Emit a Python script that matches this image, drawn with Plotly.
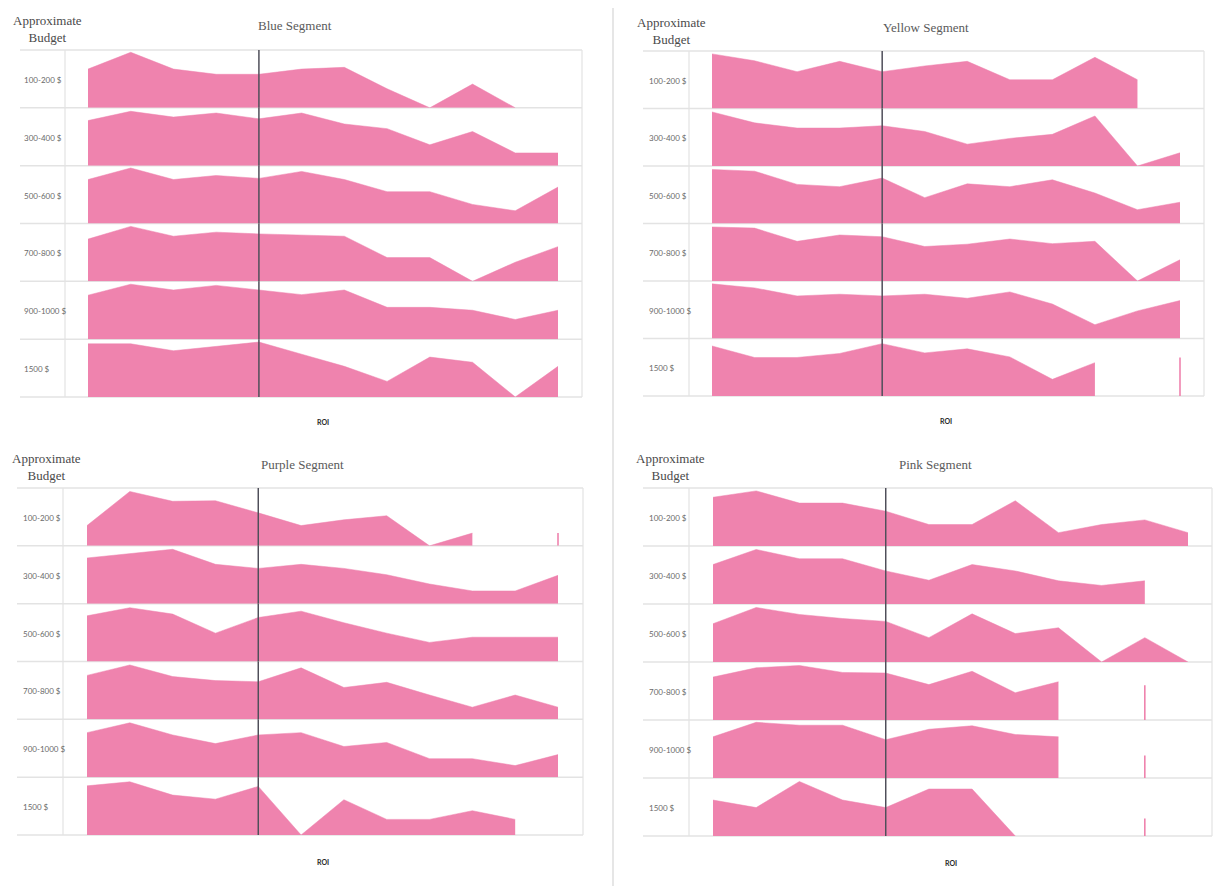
import plotly.graph_objects as go

# ---------------- data ----------------
budget_labels = ["100-200 $", "300-400 $", "500-600 $", "700-800 $", "900-1000 $", "1500 $"]
roi_points = list(range(12))
marker_roi = 4

segment_names = ["Blue Segment", "Yellow Segment", "Purple Segment", "Pink Segment"]

blue = [
    [0.67, 0.96, 0.67, 0.58, 0.58, 0.67, 0.70, 0.33, 0.0, 0.41, 0.0, None],
    [0.78, 0.94, 0.84, 0.91, 0.81, 0.91, 0.72, 0.64, 0.36, 0.59, 0.22, 0.22],
    [0.76, 0.96, 0.76, 0.83, 0.78, 0.90, 0.76, 0.55, 0.55, 0.33, 0.22, 0.63],
    [0.73, 0.95, 0.78, 0.85, 0.82, 0.80, 0.78, 0.41, 0.41, 0.0, 0.33, 0.60],
    [0.76, 0.95, 0.85, 0.93, 0.85, 0.77, 0.85, 0.55, 0.55, 0.50, 0.34, 0.50],
    [0.92, 0.92, 0.80, 0.87, 0.95, 0.74, 0.53, 0.27, 0.69, 0.60, 0.0, 0.53],
]
yellow = [
    [0.95, 0.83, 0.64, 0.82, 0.64, 0.74, 0.82, 0.50, 0.50, 0.89, 0.50, None],
    [0.94, 0.75, 0.66, 0.66, 0.70, 0.60, 0.38, 0.48, 0.55, 0.87, 0.0, 0.23],
    [0.94, 0.91, 0.68, 0.64, 0.79, 0.45, 0.69, 0.64, 0.76, 0.53, 0.24, 0.37],
    [0.94, 0.92, 0.69, 0.80, 0.77, 0.60, 0.64, 0.73, 0.65, 0.69, 0.0, 0.37],
    [0.95, 0.88, 0.74, 0.77, 0.74, 0.77, 0.70, 0.81, 0.60, 0.24, 0.48, 0.66],
    [0.87, 0.67, 0.67, 0.74, 0.91, 0.75, 0.82, 0.68, 0.29, 0.58, None, 0.67],
]
purple = [
    [0.35, 0.94, 0.77, 0.78, 0.57, 0.35, 0.45, 0.52, 0.0, 0.22, None, 0.22],
    [0.79, 0.86, 0.94, 0.68, 0.61, 0.68, 0.61, 0.50, 0.34, 0.22, 0.22, 0.49],
    [0.79, 0.93, 0.82, 0.49, 0.76, 0.87, 0.67, 0.49, 0.33, 0.42, 0.42, 0.42],
    [0.76, 0.94, 0.74, 0.67, 0.65, 0.89, 0.55, 0.64, 0.42, 0.21, 0.42, 0.21],
    [0.77, 0.94, 0.73, 0.58, 0.73, 0.77, 0.53, 0.60, 0.32, 0.32, 0.20, 0.39],
    [0.85, 0.92, 0.69, 0.62, 0.84, 0.0, 0.61, 0.27, 0.27, 0.42, 0.27, None],
]
pink = [
    [0.84, 0.95, 0.74, 0.74, 0.60, 0.37, 0.37, 0.78, 0.23, 0.37, 0.45, 0.23],
    [0.68, 0.94, 0.78, 0.78, 0.57, 0.41, 0.68, 0.57, 0.40, 0.32, 0.40, None],
    [0.66, 0.94, 0.82, 0.75, 0.70, 0.42, 0.83, 0.49, 0.59, 0.0, 0.42, 0.0],
    [0.74, 0.90, 0.94, 0.82, 0.81, 0.61, 0.84, 0.47, 0.66, None, 0.60, None],
    [0.71, 0.96, 0.91, 0.91, 0.66, 0.84, 0.90, 0.75, 0.71, None, 0.39, None],
    [0.62, 0.49, 0.94, 0.62, 0.49, 0.81, 0.81, 0.0, None, None, 0.30, None],
]
segments = [blue, yellow, purple, pink]

# ---------------- layout geometry (page pixels) ----------------
PAGE_OFF = 8            # default body margin of the html page
W, H = 1216, 878        # figure size so that it fits the 1224x886 window
FILL = "#EF83AE"
GRID = "#E3E3E3"
XPAD = 0.08             # small x padding (in ROI steps) so edge strokes are not clipped

panels = [
    dict(x0=88, x1=558, top=50, bottom=397, left=20, sep=65, right=582,
         lab_x=22, ab_x=47, ab_y=19, title_x=295, title_y=25, roi_x=323, roi_y=422),
    dict(x0=712, x1=1180, top=51, bottom=396, left=643, sep=689, right=1204,
         lab_x=647, ab_x=671, ab_y=21, title_x=926, title_y=28, roi_x=946, roi_y=421),
    dict(x0=87, x1=558, top=488, bottom=835, left=17, sep=63, right=583,
         lab_x=21, ab_x=46, ab_y=457, title_x=302, title_y=464, roi_x=323, roi_y=862),
    dict(x0=713, x1=1188, top=488, bottom=836, left=643, sep=689, right=1212,
         lab_x=647, ab_x=670, ab_y=457, title_x=935, title_y=464, roi_x=951, roi_y=863),
]


def px(x):
    return (x - PAGE_OFF) / W


def py(y):
    return 1 - (y - PAGE_OFF) / H


def runs(vals):
    """Split a series into contiguous runs of non-missing values."""
    out, cur = [], []
    for i, v in enumerate(vals):
        if v is None:
            if cur:
                out.append(cur)
            cur = []
        else:
            cur.append(i)
    if cur:
        out.append(cur)
    return out


fig = go.Figure()
layout_axes = {}
shapes = []
annotations = []

xmin, xmax = roi_points[0], roi_points[-1]
n = 0
for p_i, (seg, p) in enumerate(zip(segments, panels)):
    nrows = len(budget_labels)
    rh = (p["bottom"] - p["top"]) / nrows
    step = (p["x1"] - p["x0"]) / (xmax - xmin)
    for r in range(nrows):
        n += 1
        xa = "x" if n == 1 else f"x{n}"
        ya = "y" if n == 1 else f"y{n}"
        xkey = "xaxis" if n == 1 else f"xaxis{n}"
        ykey = "yaxis" if n == 1 else f"yaxis{n}"
        rtop = p["top"] + r * rh
        rbot = rtop + rh
        vals = seg[r]
        for run in runs(vals):
            xs = [roi_points[i] for i in run]
            ys = [vals[i] for i in run]
            if len(run) > 1:
                fig.add_trace(go.Scatter(
                    x=xs, y=ys, xaxis=xa, yaxis=ya,
                    mode="lines", fill="tozeroy", fillcolor=FILL,
                    line=dict(color=FILL, width=0.5),
                    hoverinfo="skip", showlegend=False,
                ))
            else:
                # an isolated value shows as a thin vertical stroke
                fig.add_trace(go.Scatter(
                    x=[xs[0], xs[0]], y=[0, ys[0]], xaxis=xa, yaxis=ya,
                    mode="lines", line=dict(color=FILL, width=1.6),
                    hoverinfo="skip", showlegend=False,
                ))
        layout_axes[xkey] = dict(
            domain=[px(p["x0"] - XPAD * step), px(p["x1"] + XPAD * step)],
            range=[xmin - XPAD, xmax + XPAD],
            visible=False, fixedrange=True, anchor=ya)
        layout_axes[ykey] = dict(domain=[py(rbot), py(rtop)], range=[0, 1],
                                 visible=False, fixedrange=True, anchor=xa)
        # vertical marker line
        shapes.append(dict(type="line", xref=xa, yref=f"{ya} domain",
                           x0=marker_roi, x1=marker_roi, y0=0, y1=1,
                           line=dict(color="#4F4F5A", width=1.5), layer="above"))
        # row label
        annotations.append(dict(text=budget_labels[r], xref="paper", yref="paper",
                                x=px(p["lab_x"]), y=py(rtop + rh / 2 + 1),
                                xanchor="left", yanchor="middle", showarrow=False,
                                font=dict(family="Lato", size=8, color="#6A6A6A")))
    # grid lines of the panel
    for r in range(nrows + 1):
        yy = p["top"] + r * rh
        shapes.append(dict(type="line", xref="paper", yref="paper",
                           x0=px(p["left"]), x1=px(p["right"]), y0=py(yy), y1=py(yy),
                           line=dict(color=GRID, width=1.5), layer="below"))
    for xx in (p["sep"], p["right"]):
        shapes.append(dict(type="line", xref="paper", yref="paper",
                           x0=px(xx), x1=px(xx), y0=py(p["top"]), y1=py(p["bottom"]),
                           line=dict(color=GRID, width=1.2), layer="below"))
    # texts
    annotations.append(dict(text="Approximate<br>Budget", xref="paper", yref="paper",
                            x=px(p["ab_x"]), y=py(p["ab_y"] - 8), xanchor="center",
                            yanchor="top", showarrow=False, align="center",
                            font=dict(family="Liberation Serif", size=13, color="#4A4A4A")))
    annotations.append(dict(text=segment_names[p_i], xref="paper", yref="paper",
                            x=px(p["title_x"]), y=py(p["title_y"]), xanchor="center",
                            yanchor="middle", showarrow=False,
                            font=dict(family="Liberation Serif", size=13, color="#5A5A5A")))
    annotations.append(dict(text="<b>ROI</b>", xref="paper", yref="paper",
                            x=px(p["roi_x"]), y=py(p["roi_y"]), xanchor="center",
                            yanchor="middle", showarrow=False,
                            font=dict(family="Lato", size=7, color="#2A2A2A")))

# divider between the panels
shapes.append(dict(type="line", xref="paper", yref="paper",
                   x0=px(613), x1=px(613), y0=py(4), y1=0,
                   line=dict(color="#D6D6D6", width=1.2), layer="below"))

fig.update_layout(
    width=W, height=H,
    margin=dict(l=0, r=0, t=0, b=0),
    paper_bgcolor="white", plot_bgcolor="rgba(0,0,0,0)",
    shapes=shapes, annotations=annotations, showlegend=False,
    **layout_axes,
)

fig.write_html("out.html", config={"displayModeBar": False})
